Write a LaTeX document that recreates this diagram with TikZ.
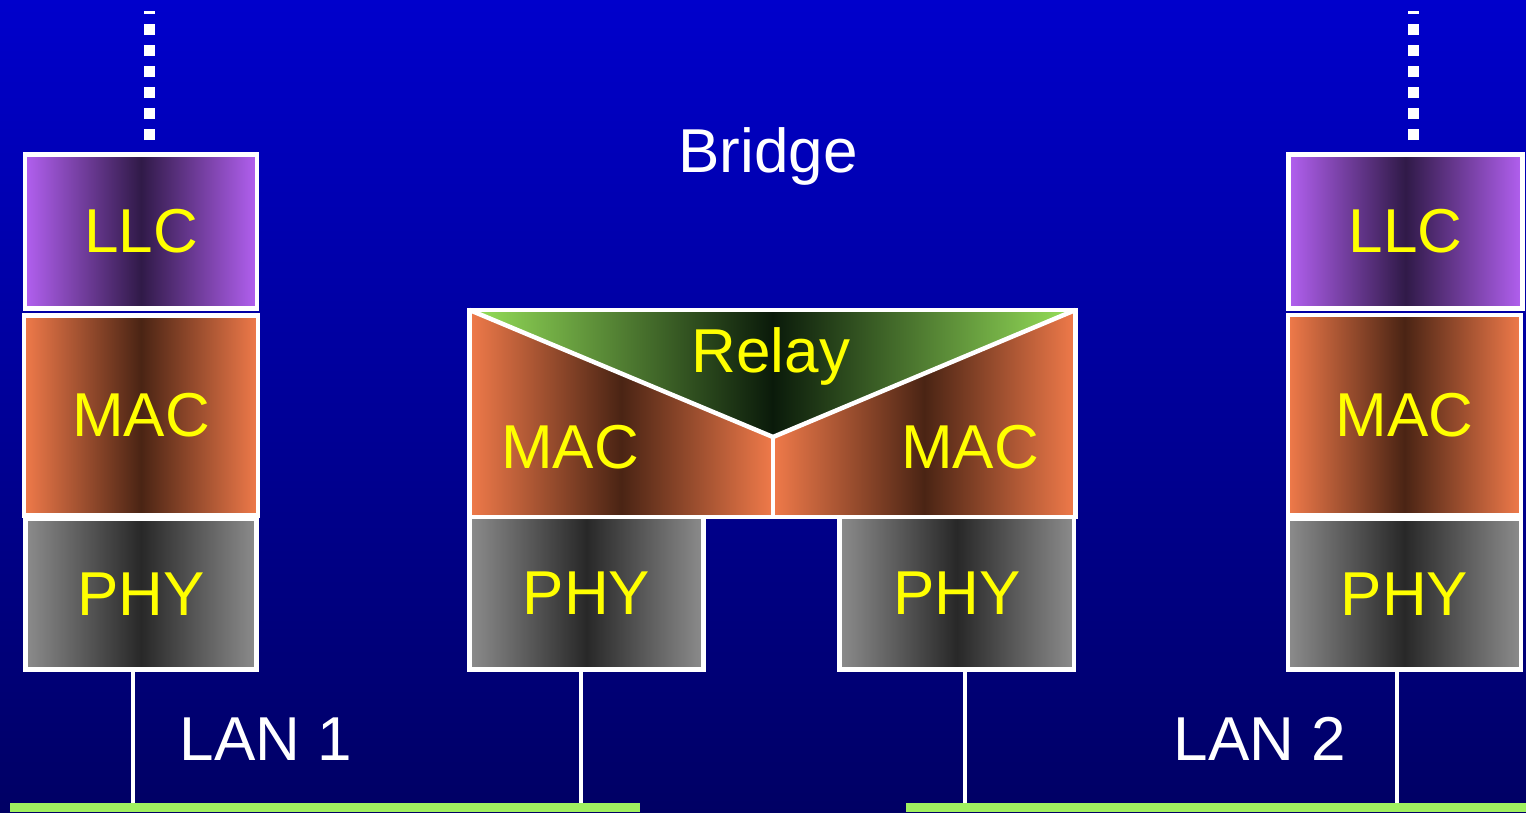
\documentclass[tikz,border=0pt]{standalone}
\usepackage{fontspec}
\setmainfont{Liberation Sans}
\definecolor{bgtop}{RGB}{0,0,204}
\definecolor{bgbot}{RGB}{0,0,100}
\definecolor{llcE}{RGB}{178,96,240}
\definecolor{llcC}{RGB}{48,26,72}
\definecolor{macE}{RGB}{240,122,74}
\definecolor{macC}{RGB}{74,36,20}
\definecolor{phyE}{RGB}{140,140,140}
\definecolor{phyC}{RGB}{40,40,40}
\definecolor{relE}{RGB}{152,226,90}
\definecolor{relC}{RGB}{10,26,10}
\definecolor{lan}{RGB}{160,240,96}
\definecolor{txt}{RGB}{255,255,0}
\begin{document}
\begin{tikzpicture}[x=1pt,y=-1pt,
  big/.style={font=\fontsize{62}{70}\selectfont},
  layerbox/.style={draw=white, line width=4.5pt, inner sep=0pt, text=txt, big},
  llcbox/.style={layerbox, left color=llcE, right color=llcE, middle color=llcC},
  macbox/.style={layerbox, left color=macE, right color=macE, middle color=macC},
  phybox/.style={layerbox, left color=phyE, right color=phyE, middle color=phyC},
  macshade/.style={left color=macE, right color=macE, middle color=macC},
  outline/.style={draw=white, line width=4.5pt, line join=miter},
  wire/.style={draw=white, line width=4pt},
  dots/.style={draw=white, line width=11pt, dash pattern=on 11pt off 10pt},
  lanbar/.style={fill=lan, draw=none, inner sep=0pt},
  label/.style={text=white, big, anchor=base, inner sep=0pt},
  ytext/.style={text=txt, big, anchor=base, inner sep=0pt}]
\useasboundingbox (0,0) rectangle (1526,812);
\shade[top color=bgtop, bottom color=bgbot] (0,0) rectangle (1526,812);

% LAN bars
\node[lanbar, minimum width=630pt, minimum height=9pt] (lan1) at (325,807.5) {};
\node[lanbar, minimum width=620pt, minimum height=9pt] (lan2) at (1216,807.5) {};

% left station
\node[macbox, minimum width=234pt, minimum height=200pt] (mac1) at (141,415.5) {MAC};
\node[llcbox, minimum width=232pt, minimum height=154pt] (llc1) at (141,231.5) {LLC};
\node[phybox, minimum width=231pt, minimum height=151pt] (phy1) at (141,594) {PHY};

% right station
\node[macbox, minimum width=233pt, minimum height=200pt] (mac2) at (1404.5,415) {MAC};
\node[llcbox, minimum width=234pt, minimum height=154pt] (llc2) at (1405.5,231.5) {LLC};
\node[phybox, minimum width=233pt, minimum height=151pt] (phy2) at (1404.5,594) {PHY};

% bridge
\coordinate (btl) at (469.5,310);
\coordinate (btr) at (1075.5,310);
\coordinate (bbl) at (469.5,517);
\coordinate (bbr) at (1075.5,517);
\coordinate (apex) at (773,437);
\coordinate (bmid) at (773,517);
\shade[macshade] (btl) -- (apex) -- (bmid) -- (bbl) -- cycle;
\shade[macshade] (btr) -- (apex) -- (bmid) -- (bbr) -- cycle;
\shade[left color=relE, right color=relE, middle color=relC] (btl) -- (btr) -- (apex) -- cycle;
\draw[outline] (btl) -- (btr) -- (bbr) -- (bbl) -- cycle;
\draw[outline] (btl) -- (apex) -- (btr);
\draw[outline] (apex) -- (bmid);
\node[phybox, minimum width=234pt, minimum height=152.5pt] (phyb1) at (586.5,593.25) {PHY};
\node[phybox, minimum width=234.5pt, minimum height=152.5pt] (phyb2) at (956.75,593.25) {PHY};

\node[ytext] (relay) at (771,372) {Relay};
\node[ytext] (macb1) at (570,468) {MAC};
\node[ytext] (macb2) at (970,468) {MAC};

% labels
\node[label] (bridge) at (768,172) {Bridge};
\node[label] (lan1t) at (266,760) {LAN 1};
\node[label] (lan2t) at (1260,760) {LAN 2};

% wires
\coordinate (w1) at (133,803);
\coordinate (w2) at (581,803);
\coordinate (w3) at (965,803);
\coordinate (w4) at (1397,803);
\draw[wire] (w1 |- phy1.south) -- (w1);
\draw[wire] (w2 |- phyb1.south) -- (w2);
\draw[wire] (w3 |- phyb2.south) -- (w3);
\draw[wire] (w4 |- phy2.south) -- (w4);

% dotted upper links
\coordinate (d1s) at (149.5,140);
\coordinate (d1e) at (149.5,11);
\coordinate (d2s) at (1413.5,140);
\coordinate (d2e) at (1413.5,11);
\draw[dots] (d1s) -- (d1e);
\draw[dots] (d2s) -- (d2e);
\end{tikzpicture}
\end{document}
